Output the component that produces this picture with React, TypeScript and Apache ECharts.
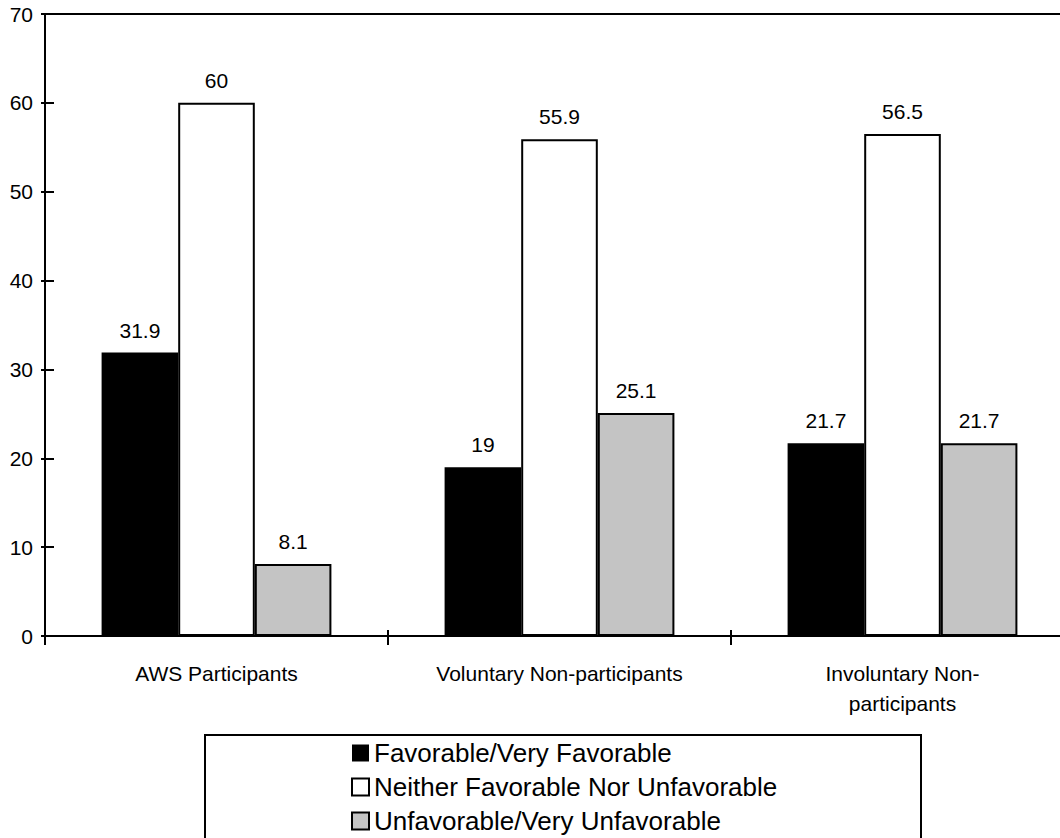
import React, { useEffect, useRef } from "react";
import * as echarts from "echarts";

const categories = ["AWS Participants", "Voluntary Non-participants", "Involuntary Non-\nparticipants"];
const seriesNames = [
  "Favorable/Very Favorable",
  "Neither Favorable Nor Unfavorable",
  "Unfavorable/Very Unfavorable",
];
const favorable = [31.9, 19, 21.7];
const neither = [60, 55.9, 56.5];
const unfavorable = [8.1, 25.1, 21.7];
const yTicks = { min: 0, max: 70, interval: 10 };

const FONT = "'Liberation Sans', Arial, Helvetica, sans-serif";

export default function App() {
  const ref = useRef<HTMLDivElement>(null);
  useEffect(() => {
    if (!ref.current) return;
    const chart = echarts.init(ref.current, undefined, { renderer: "svg" });
    const label = {
      show: true,
      position: "top",
      distance: 12,
      color: "#000",
      fontSize: 21,
      fontFamily: FONT,
    };
    const mk = (name: string, data: number[], color: string, border: boolean) => ({
      name,
      type: "bar",
      data,
      xAxisIndex: 0,
      yAxisIndex: 0,
      barGap: "0%",
      barCategoryGap: "33%",
      itemStyle: {
        color,
        borderColor: "#000",
        borderWidth: border ? 2 : 0,
      },
      label,
    });
    chart.setOption({
      animation: false,
      backgroundColor: "#fff",
      textStyle: { fontFamily: FONT },
      grid: {
        left: 45,
        top: 14,
        width: 1029,
        bottom: 202,
        outerBoundsMode: "none",
        containLabel: false,
        show: true,
        borderColor: "#000",
        borderWidth: 2,
        backgroundColor: "transparent",
      },
      legend: {
        orient: "vertical",
        left: 351,
        top: 736,
        padding: 0,
        itemGap: 0,
        itemWidth: 17,
        itemHeight: 17,
        icon: "rect",
        data: seriesNames,
        textStyle: { fontSize: 26, lineHeight: 34, color: "#000", fontFamily: FONT },
      },
      xAxis: [
        {
          type: "category",
          data: categories,
          position: "bottom",
          axisLine: { show: true, lineStyle: { color: "#000", width: 2 } },
          axisTick: { show: true, inside: false, length: 9, lineStyle: { color: "#000", width: 2 } },
          axisLabel: {
            color: "#000",
            fontSize: 21,
            lineHeight: 30,
            margin: 22,
            fontFamily: FONT,
            interval: 0,
          },
          splitLine: { show: false },
        },
        {
          type: "category",
          data: categories,
          position: "bottom",
          axisLine: { show: false },
          axisTick: { show: true, inside: true, length: 6, lineStyle: { color: "#000", width: 2 } },
          axisLabel: { show: false },
          splitLine: { show: false },
        },
      ],
      yAxis: [
        {
          type: "value",
          min: yTicks.min,
          max: yTicks.max,
          interval: yTicks.interval,
          position: "left",
          axisLine: { show: true, lineStyle: { color: "#000", width: 2 } },
          axisTick: { show: true, inside: false, length: 4, lineStyle: { color: "#000", width: 2 } },
          axisLabel: { color: "#000", fontSize: 21, margin: 12, fontFamily: FONT },
          splitLine: { show: false },
        },
        {
          type: "value",
          min: yTicks.min,
          max: yTicks.max,
          interval: yTicks.interval,
          position: "left",
          axisLine: { show: false },
          axisTick: { show: true, inside: true, length: 9, lineStyle: { color: "#000", width: 2 } },
          axisLabel: { show: false },
          splitLine: { show: false },
        },
      ],
      series: [
        mk(seriesNames[0], favorable, "#000", false),
        mk(seriesNames[1], neither, "#fff", true),
        mk(seriesNames[2], unfavorable, "#c4c4c4", true),
      ],
      graphic: [
        {
          type: "rect",
          shape: { x: 205, y: 735, width: 716, height: 130 },
          style: { fill: "none", stroke: "#000", lineWidth: 2 },
          z: -1,
        },
      ],
    });
    return () => chart.dispose();
  }, []);
  return (
    <div
      ref={ref}
      style={{ position: "absolute", left: 0, top: 0, width: 1060, height: 838 }}
    />
  );
}
